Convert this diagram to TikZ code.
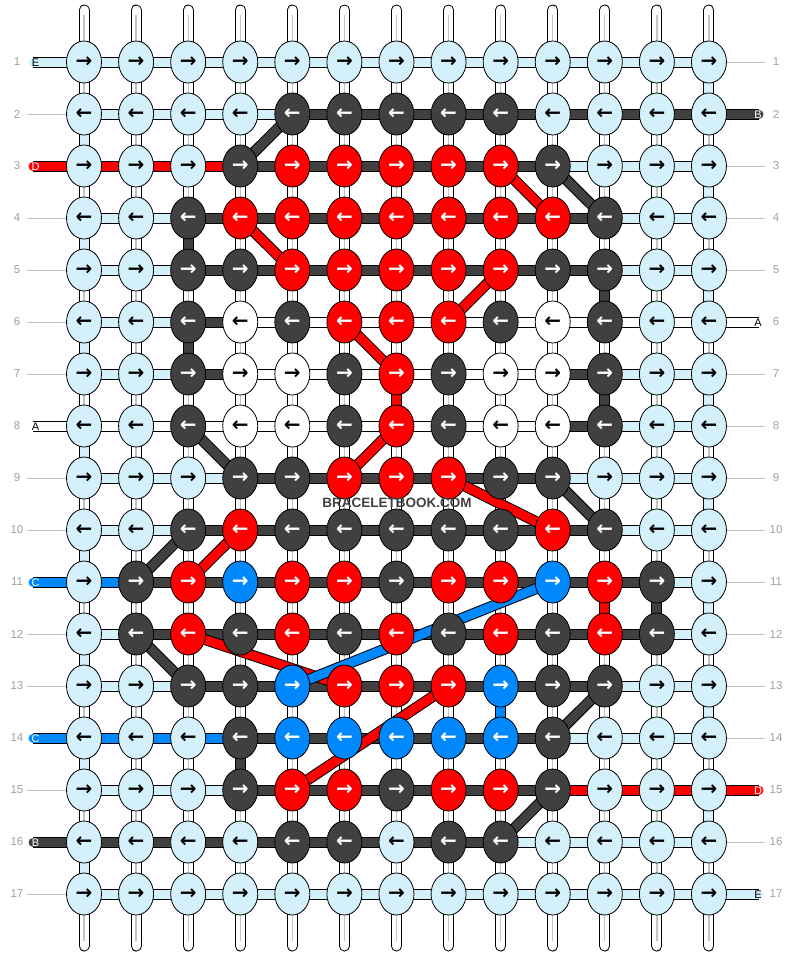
\documentclass[tikz,border=0pt]{standalone}
\usepackage{fontspec}
\setmainfont{Liberation Sans}
\newfontfamily\arrowfont{DejaVu Sans}
\usetikzlibrary{shapes.geometric}
\definecolor{cL}{HTML}{D4F1FB}
\definecolor{cK}{HTML}{404040}
\definecolor{cR}{HTML}{FF0000}
\definecolor{cB}{HTML}{0088FF}
\definecolor{cW}{HTML}{FFFFFF}
\definecolor{tL}{HTML}{000000}
\definecolor{tW}{HTML}{000000}
\definecolor{tK}{HTML}{FFFFFF}
\definecolor{tR}{HTML}{FFFFFF}
\definecolor{tB}{HTML}{FFFFFF}
\definecolor{numgrey}{HTML}{A0A0A0}
\definecolor{linegrey}{HTML}{C4C4C4}
\pgfdeclarelayer{bglayer}
\pgfdeclarelayer{warplayer}
\pgfdeclarelayer{strandlayer}
\pgfsetlayers{bglayer,warplayer,strandlayer,main}
\tikzset{
  knot/.style={ellipse, draw=black, line width=0.8pt, minimum width=35pt, minimum height=42pt,
    inner sep=0pt, font=\arrowfont\bfseries\fontsize{20}{20}\selectfont},
  strand/.style={draw=#1, line width=9pt, preaction={draw=black, line width=11pt}},
  warpline/.style={draw=white, line width=9pt, line cap=round,
    preaction={draw=black, line width=11pt, line cap=round},
    postaction={draw=linegrey, line width=1.3pt, line cap=butt, shorten <=5pt, shorten >=5pt}},
  endline/.style={draw=linegrey, line width=0.9pt},
  rownum/.style={text=numgrey, font=\fontsize{11.5}{11.5}\selectfont},
  tabtext/.style={font=\fontsize{11}{11}\selectfont, inner sep=0pt},
  watermark/.style={text=cK, font=\bfseries\fontsize{13.5}{13.5}\selectfont}
}
\begin{document}
\begin{tikzpicture}[x=1pt,y=-1pt]
\useasboundingbox (0,0) rectangle (792,956);
\begin{pgfonlayer}{bglayer}
\fill[white] (0,0) rectangle (792,956);
\end{pgfonlayer}
% knots
\foreach \r/\cols in {
 1/{L,L,L,L,L,L,L,L,L,L,L,L,L},
 2/{L,L,L,L,K,K,K,K,K,L,L,L,L},
 3/{L,L,L,K,R,R,R,R,R,K,L,L,L},
 4/{L,L,K,R,R,R,R,R,R,R,K,L,L},
 5/{L,L,K,K,R,R,R,R,R,K,K,L,L},
 6/{L,L,K,W,K,R,R,R,K,W,K,L,L},
 7/{L,L,K,W,W,K,R,K,W,W,K,L,L},
 8/{L,L,K,W,W,K,R,K,W,W,K,L,L},
 9/{L,L,L,K,K,R,R,R,K,K,L,L,L},
 10/{L,L,K,R,K,K,K,K,K,R,K,L,L},
 11/{L,K,R,B,R,R,K,R,R,B,R,K,L},
 12/{L,K,R,K,R,K,R,K,R,K,R,K,L},
 13/{L,L,K,K,B,R,R,R,B,K,K,L,L},
 14/{L,L,L,K,B,B,B,B,B,K,L,L,L},
 15/{L,L,L,K,R,R,K,R,R,K,L,L,L},
 16/{L,L,L,L,K,K,L,K,K,L,L,L,L},
 17/{L,L,L,L,L,L,L,L,L,L,L,L,L}}{
  \foreach \k [count=\c] in \cols {
    \node[knot, fill=c\k, text=t\k] (n-\r-\c) at ({84+52.08*(\c-1)},{62+52*(\r-1)})
      {\ifodd\r\relax →\else ←\fi};
  }
  \node[rownum] (ln-\r) at (17,{62+52*(\r-1)}) {\r};
  \node[rownum] (rn-\r) at (776,{62+52*(\r-1)}) {\r};
}
% warp strings
\begin{pgfonlayer}{warplayer}
\foreach \c in {1,...,13}{
  \coordinate (wt-\c) at ({84+52.08*(\c-1)},10);
  \coordinate (wb-\c) at ({84+52.08*(\c-1)},946);
  \draw[warpline] (wt-\c) -- (wb-\c);
}
\end{pgfonlayer}
\begin{pgfonlayer}{strandlayer}
% horizontal strands
\foreach \r/\segs in {
 1/{L,L,L,L,L,L,L,L,L,L,L,L},
 2/{L,L,L,L,K,K,K,K,K,K,K,K},
 3/{R,R,R,K,K,K,K,K,K,L,L,L},
 4/{L,L,K,K,K,K,K,K,K,K,L,L},
 5/{L,L,K,K,K,K,K,K,K,K,L,L},
 6/{L,L,K,W,W,W,W,W,W,W,W,W},
 7/{L,L,K,W,W,W,W,W,W,K,L,L},
 8/{W,W,W,W,W,W,W,W,W,K,L,L},
 9/{L,L,L,K,K,K,K,K,K,L,L,L},
 10/{L,L,K,K,K,K,K,K,K,K,L,L},
 11/{B,K,K,K,K,K,K,K,K,K,K,L},
 12/{L,K,K,K,K,K,K,K,K,K,K,L},
 13/{L,L,K,K,K,K,K,K,K,K,L,L},
 14/{B,B,B,K,K,K,K,K,K,L,L,L},
 15/{L,L,L,K,K,K,K,K,K,R,R,R},
 16/{K,K,K,K,K,K,K,K,L,L,L,L},
 17/{L,L,L,L,L,L,L,L,L,L,L,L}}{
  \foreach \k [count=\c] in \segs {
    \pgfmathtruncatemacro\cn{\c+1}
    \draw[strand=c\k] (n-\r-\c.center) -- (n-\r-\cn.center);
  }
}
% vertical coloured pieces
\foreach \c/\r/\k in {1/2/L,1/4/L,1/6/L,1/8/L,1/10/L,1/12/L,1/14/L,1/16/L,
  13/1/L,13/3/L,13/5/L,13/7/L,13/9/L,13/11/L,13/13/L,13/15/L,
  3/4/K,3/6/K,11/5/K,11/7/K,7/7/R,11/11/R,12/11/K,9/13/B,4/14/K}{
  \pgfmathtruncatemacro\rn{\r+1}
  \draw[strand=c\k] (n-\r-\c.center) -- (n-\rn-\c.center);
}
% diagonal pieces
\foreach \ra/\ca/\rb/\cb/\k in {2/5/3/4/K,4/4/5/5/R,3/9/4/10/R,3/10/4/11/K,5/9/6/8/R,
  6/6/7/7/R,8/7/9/6/R,8/3/9/4/K,9/8/10/10/R,9/10/10/11/K,10/3/11/2/K,10/4/11/3/R,
  12/2/13/3/K,12/3/13/6/R,11/10/13/5/B,13/8/15/5/R,13/11/14/10/K,15/10/16/9/K}{
  \draw[strand=c\k] (n-\ra-\ca.center) -- (n-\rb-\cb.center);
}
% strand ends with tabs
\foreach \r/\k in {1/L,3/R,8/W,11/B,14/B,16/K}{
  \coordinate (tl-\r) at (33,{62+52*(\r-1)});
  \draw[strand=c\k, line cap=round] (tl-\r) -- (n-\r-1.center);
}
\foreach \r/\k in {2/K,6/W,15/R,17/L}{
  \coordinate (tr-\r) at (759,{62+52*(\r-1)});
  \draw[strand=c\k, line cap=round] (tr-\r) -- (n-\r-13.center);
}
\end{pgfonlayer}
\foreach \r/\k/\t in {1/L/E,3/R/D,8/W/A,11/B/C,14/B/C,16/K/B}{
  \node[tabtext, text=t\k] (lt-\r) at (35.5,{62.5+52*(\r-1)}) {\t};
}
\foreach \r/\k/\t in {2/K/B,6/W/A,15/R/D,17/L/E}{
  \node[tabtext, text=t\k] (rt-\r) at (758,{62.5+52*(\r-1)}) {\t};
}
% plain ends
\foreach \r in {2,4,5,6,7,9,10,12,13,15,17}{
  \coordinate (el-\r) at (27,{62+52*(\r-1)});
  \draw[endline] (el-\r) -- (n-\r-1.west);
}
\foreach \r in {1,3,4,5,7,8,9,10,11,12,13,14,16}{
  \coordinate (er-\r) at (765,{62+52*(\r-1)});
  \draw[endline] (n-\r-13.east) -- (er-\r);
}
\node[watermark] (wm) at (397,503) {BRACELETBOOK.COM};
\end{tikzpicture}
\end{document}
